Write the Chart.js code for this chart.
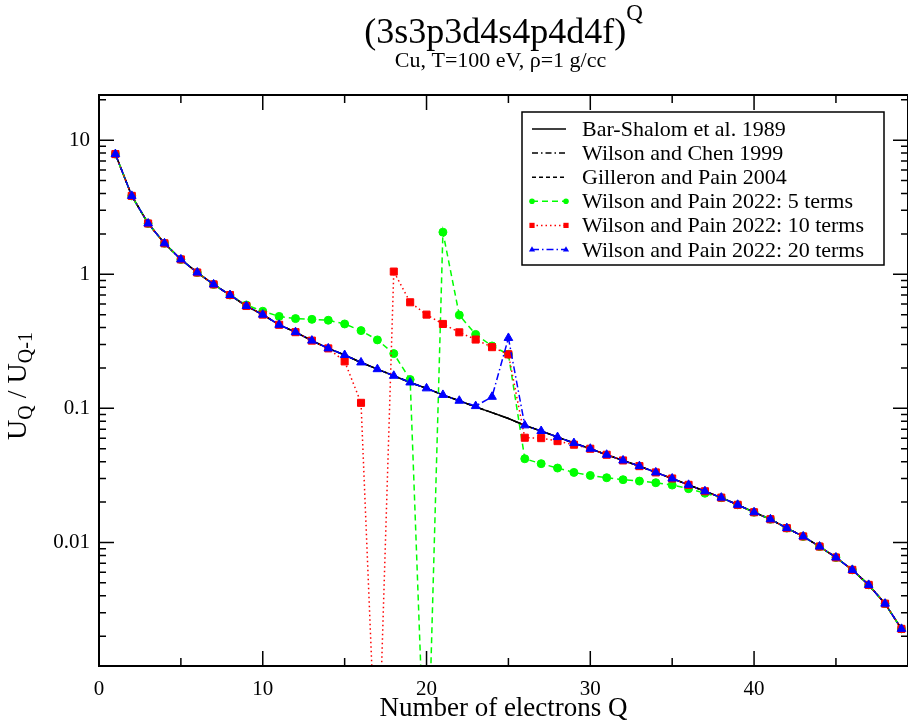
<!DOCTYPE html>
<html>
<head>
<meta charset="utf-8">
<title>UQ / UQ-1 ratio</title>
<script src="https://cdn.jsdelivr.net/npm/chart.js@4.4.0/dist/chart.umd.min.js"></script>
<style>
  html, body { margin: 0; padding: 0; background: #fff; overflow: hidden; }
  #wrap { position: relative; width: 914px; height: 727px; }
</style>
</head>
<body>
<div id="wrap"><canvas id="ratioChart"></canvas></div>
<script>
// number of electrons Q
const electrons = [1, 2, 3, 4, 5, 6, 7, 8, 9, 10,
  11, 12, 13, 14, 15, 16, 17, 18, 19, 20,
  21, 22, 23, 24, 25, 26, 27, 28, 29, 30,
  31, 32, 33, 34, 35, 36, 37, 38, 39, 40,
  41, 42, 43, 44, 45, 46, 47, 48, 49];

// exact recursion (the three older methods lie on top of each other)
const barShalom1989 = [7.87, 3.84, 2.39, 1.70, 1.29, 1.03, 0.84, 0.70, 0.58, 0.50,
  0.42, 0.37, 0.32, 0.28, 0.25, 0.22, 0.196, 0.175, 0.156, 0.141,
  0.126, 0.114, 0.1026, 0.093, 0.084, 0.0747, 0.0678, 0.0611, 0.0551, 0.0500,
  0.0451, 0.0409, 0.0371, 0.0333, 0.0300, 0.0269, 0.0241, 0.0216, 0.0191, 0.0168,
  0.0149, 0.0128, 0.0111, 0.00933, 0.00773, 0.00625, 0.00483, 0.00350, 0.00227];
const wilsonChen1999 = [7.87, 3.84, 2.39, 1.70, 1.29, 1.03, 0.84, 0.70, 0.58, 0.50,
  0.42, 0.37, 0.32, 0.28, 0.25, 0.22, 0.196, 0.175, 0.156, 0.141,
  0.126, 0.114, 0.1026, 0.093, 0.084, 0.0747, 0.0678, 0.0611, 0.0551, 0.0500,
  0.0451, 0.0409, 0.0371, 0.0333, 0.0300, 0.0269, 0.0241, 0.0216, 0.0191, 0.0168,
  0.0149, 0.0128, 0.0111, 0.00933, 0.00773, 0.00625, 0.00483, 0.00350, 0.00227];
const gilleronPain2004 = [7.87, 3.84, 2.39, 1.70, 1.29, 1.03, 0.84, 0.70, 0.58, 0.50,
  0.42, 0.37, 0.32, 0.28, 0.25, 0.22, 0.196, 0.175, 0.156, 0.141,
  0.126, 0.114, 0.1026, 0.093, 0.084, 0.0747, 0.0678, 0.0611, 0.0551, 0.0500,
  0.0451, 0.0409, 0.0371, 0.0333, 0.0300, 0.0269, 0.0241, 0.0216, 0.0191, 0.0168,
  0.0149, 0.0128, 0.0111, 0.00933, 0.00773, 0.00625, 0.00483, 0.00350, 0.00227];

// Wilson and Pain 2022 truncated expansions
const terms5 = [7.87, 3.84, 2.39, 1.70, 1.29, 1.03, 0.84, 0.70, 0.59, 0.53,
  0.485, 0.467, 0.461, 0.454, 0.426, 0.380, 0.324, 0.256, 0.164, 0.00008,
  2.06, 0.496, 0.356, 0.292, 0.253, 0.0421, 0.0387, 0.0359, 0.0333, 0.0316,
  0.0304, 0.0294, 0.0287, 0.0279, 0.0268, 0.0252, 0.0233, 0.0216, 0.0191, 0.0168,
  0.0149, 0.0128, 0.0111, 0.00933, 0.00773, 0.00625, 0.00483, 0.00350, 0.00227];
const terms10 = [7.87, 3.84, 2.39, 1.70, 1.29, 1.03, 0.84, 0.70, 0.58, 0.50,
  0.42, 0.37, 0.32, 0.28, 0.224, 0.110, 0.000115, 1.047, 0.618, 0.50,
  0.426, 0.369, 0.326, 0.286, 0.253, 0.0604, 0.0600, 0.0570, 0.0536, 0.0500,
  0.0451, 0.0409, 0.0371, 0.0333, 0.0300, 0.0269, 0.0241, 0.0216, 0.0191, 0.0168,
  0.0149, 0.0128, 0.0111, 0.00933, 0.00773, 0.00625, 0.00483, 0.00350, 0.00227];
const terms20 = [7.87, 3.84, 2.39, 1.70, 1.29, 1.03, 0.84, 0.70, 0.58, 0.50,
  0.42, 0.37, 0.32, 0.28, 0.25, 0.22, 0.196, 0.175, 0.156, 0.141,
  0.126, 0.114, 0.104, 0.122, 0.335, 0.0747, 0.0678, 0.0611, 0.0551, 0.0500,
  0.0451, 0.0409, 0.0371, 0.0333, 0.0300, 0.0269, 0.0241, 0.0216, 0.0191, 0.0168,
  0.0149, 0.0128, 0.0111, 0.00933, 0.00773, 0.00625, 0.00483, 0.00350, 0.00227];

const xTicks = [0, 10, 20, 30, 40];
const xMinorTicks = [5, 15, 25, 35, 45];
const yTicks = [0.01, 0.1, 1, 10];

const serif = "'Liberation Serif', 'Times New Roman', serif";

function pts(values) {
  return electrons.map((q, i) => ({ x: q, y: values[i] }));
}

function makeSet(label, values, color, dash, marker, radius, order) {
  return {
    label: label,
    data: pts(values),
    borderColor: color,
    backgroundColor: color,
    borderWidth: 1.5,
    borderDash: dash,
    tension: 0,
    pointStyle: marker || 'circle',
    pointRadius: marker ? radius : 0,
    pointHoverRadius: marker ? radius : 0,
    pointBackgroundColor: color,
    pointBorderColor: color,
    pointBorderWidth: 1,
    order: order
  };
}

const datasets = [
  makeSet('Bar-Shalom et al. 1989', barShalom1989, '#000000', [], null, 0, 5),
  makeSet('Wilson and Chen 1999', wilsonChen1999, '#000000', [6, 3, 1.5, 3], null, 0, 4),
  makeSet('Gilleron and Pain 2004', gilleronPain2004, '#000000', [4, 3], null, 0, 3),
  makeSet('Wilson and Pain 2022: 5 terms', terms5, '#00ff00', [6, 4], 'circle', 4, 2),
  makeSet('Wilson and Pain 2022: 10 terms', terms10, '#ff0000', [1.5, 3], 'rect', 5, 1),
  makeSet('Wilson and Pain 2022: 20 terms', terms20, '#0000ff', [7, 3, 1.5, 3], 'triangle', 5, 0)
];

// small marker painter for the legend
function marker(ctx, style, x, y, r, color) {
  ctx.save();
  ctx.setLineDash([]);
  ctx.fillStyle = color;
  ctx.beginPath();
  if (style === 'circle') {
    ctx.arc(x, y, r, 0, Math.PI * 2);
  } else if (style === 'rect') {
    ctx.rect(x - r, y - r, 2 * r, 2 * r);
  } else if (style === 'triangle') {
    ctx.moveTo(x, y - r * 1.2);
    ctx.lineTo(x + r * 1.1, y + r * 0.75);
    ctx.lineTo(x - r * 1.1, y + r * 0.75);
    ctx.closePath();
  }
  ctx.fill();
  ctx.restore();
}

// frame with inward ticks, xmgrace style
const frameTicks = {
  id: 'frameTicks',
  afterDatasetsDraw(chart) {
    const { ctx, chartArea: a, scales: { x, y } } = chart;
    ctx.save();
    ctx.strokeStyle = '#000';
    ctx.setLineDash([]);
    ctx.lineWidth = 1.5;
    ctx.beginPath();
    const seg = (x1, y1, x2, y2) => { ctx.moveTo(x1, y1); ctx.lineTo(x2, y2); };
    xTicks.forEach(v => {
      const px = x.getPixelForValue(v);
      seg(px, a.bottom, px, a.bottom - 15);
      seg(px, a.top, px, a.top + 15);
    });
    xMinorTicks.forEach(v => {
      const px = x.getPixelForValue(v);
      seg(px, a.bottom, px, a.bottom - 8);
      seg(px, a.top, px, a.top + 8);
    });
    for (let d = -3; d <= 1; d++) {
      for (let k = 1; k <= 9; k++) {
        const v = k * Math.pow(10, d);
        if (v < y.min || v > y.max) continue;
        const py = y.getPixelForValue(v);
        const len = k === 1 ? 15 : 7;
        seg(a.left, py, a.left + len, py);
        seg(a.right, py, a.right - len, py);
      }
    }
    ctx.stroke();
    ctx.lineWidth = 2;
    ctx.strokeRect(a.left, a.top, a.right - a.left, a.bottom - a.top);
    ctx.restore();
  }
};

const legendBox = {
  id: 'legendBox',
  afterDraw(chart) {
    const { ctx, chartArea: a } = chart;
    const left = a.right - 386, top = a.top + 17, w = 362, h = 153;
    ctx.save();
    ctx.fillStyle = '#fff';
    ctx.fillRect(left, top, w, h);
    ctx.strokeStyle = '#000';
    ctx.lineWidth = 1.5;
    ctx.setLineDash([]);
    ctx.strokeRect(left, top, w, h);
    ctx.font = '22px ' + serif;
    ctx.textBaseline = 'alphabetic';
    ctx.textAlign = 'left';
    chart.data.datasets.forEach((ds, i) => {
      const cy = top + 17 + i * 24.1;
      const x1 = left + 10, x2 = left + 44;
      ctx.strokeStyle = ds.borderColor;
      ctx.lineWidth = 1.5;
      ctx.setLineDash(ds.borderDash);
      ctx.beginPath();
      ctx.moveTo(x1, cy);
      ctx.lineTo(x2, cy);
      ctx.stroke();
      ctx.setLineDash([]);
      if (ds.pointRadius > 0) {
        const r = ds.pointStyle === 'rect' ? 2.6 : 2.8;
        marker(ctx, ds.pointStyle, x1, cy, r, ds.borderColor);
        marker(ctx, ds.pointStyle, x2, cy, r, ds.borderColor);
      }
      ctx.fillStyle = '#000';
      ctx.fillText(ds.label, left + 60, cy + 7);
    });
    ctx.restore();
  }
};

function drawParts(ctx, parts, cx, baseY) {
  let total = 0;
  parts.forEach(p => {
    ctx.font = p.size + 'px ' + serif;
    p.w = ctx.measureText(p.text).width;
    total += p.w;
  });
  let px = cx - total / 2;
  parts.forEach(p => {
    ctx.font = p.size + 'px ' + serif;
    ctx.fillText(p.text, px, baseY + (p.dy || 0));
    px += p.w;
  });
}

const titles = {
  id: 'titles',
  afterDraw(chart) {
    const { ctx, chartArea: a } = chart;
    const cx = (a.left + a.right) / 2;
    ctx.save();
    ctx.fillStyle = '#000';
    ctx.textAlign = 'left';
    ctx.textBaseline = 'alphabetic';
    drawParts(ctx, [
      { text: '(3s3p3d4s4p4d4f)', size: 36 },
      { text: 'Q', size: 23, dy: -23 }
    ], cx, 43);
    drawParts(ctx, [{ text: 'Cu, T=100 eV, \u03c1=1 g/cc', size: 22 }], cx - 3, 67);
    drawParts(ctx, [{ text: 'Number of electrons Q', size: 27 }], cx, 716);
    ctx.translate(26, 386);
    ctx.rotate(-Math.PI / 2);
    drawParts(ctx, [
      { text: 'U', size: 28 },
      { text: 'Q', size: 20, dy: 6 },
      { text: ' / U', size: 28 },
      { text: 'Q-1', size: 20, dy: 6 }
    ], 0, 0);
    ctx.restore();
  }
};

new Chart(document.getElementById('ratioChart'), {
  type: 'line',
  data: { datasets: datasets },
  options: {
    responsive: true,
    maintainAspectRatio: false,
    devicePixelRatio: 1,
    animation: false,
    events: [],
    layout: { padding: { top: 95, right: 1, left: 0, bottom: 0 } },
    plugins: {
      legend: { display: false },
      title: { display: false },
      tooltip: { enabled: false }
    },
    scales: {
      x: {
        type: 'linear',
        min: 0,
        max: 49.4,
        afterBuildTicks: s => { s.ticks = xTicks.map(v => ({ value: v })); },
        afterFit: s => { s.height = 61; },
        grid: { display: false, drawTicks: false },
        border: { display: false },
        ticks: {
          color: '#000',
          font: { family: serif, size: 21 },
          padding: 11,
          maxRotation: 0,
          autoSkip: false,
          callback: v => String(v)
        }
      },
      y: {
        type: 'logarithmic',
        min: 0.0012,
        max: 21.7,
        afterBuildTicks: s => { s.ticks = yTicks.map(v => ({ value: v })); },
        afterFit: s => { s.width = 99; },
        grid: { display: false, drawTicks: false },
        border: { display: false },
        ticks: {
          color: '#000',
          font: { family: serif, size: 21 },
          padding: 9,
          autoSkip: false,
          callback: v => String(v)
        }
      }
    }
  },
  plugins: [frameTicks, legendBox, titles]
});
</script>
</body>
</html>
